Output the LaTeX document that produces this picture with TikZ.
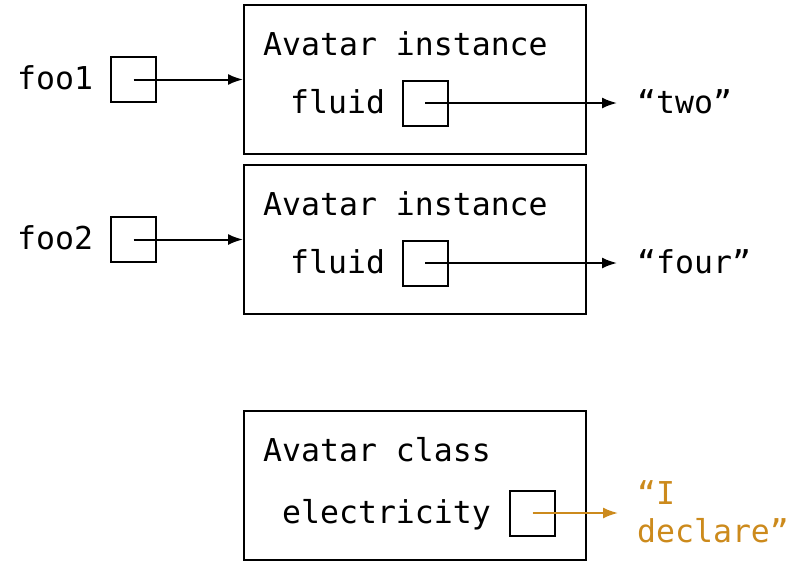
\documentclass[tikz,border=0pt]{standalone}
\usepackage{fontspec}
\setmonofont{DejaVu Sans Mono}
\usetikzlibrary{arrows.meta}
\definecolor{ochre}{HTML}{CC8A1C}
\begin{document}
\begin{tikzpicture}[x=1pt,y=-1pt,
  font=\fontsize{31.5}{38}\selectfont\ttfamily,
  bigbox/.style={draw, line width=2pt, minimum width=342pt, minimum height=149pt, inner sep=0pt},
  cell/.style={draw, line width=2pt, minimum size=45pt, inner sep=0pt},
  lbl/.style={anchor=base west, inner sep=0pt},
  arr/.style={line width=2pt, -{Latex[length=15pt,width=11pt]}}]
\useasboundingbox (0,0) rectangle (798,560);
% boxes
\node[bigbox] (b1) at (415,79.5) {};
\node[bigbox] (b2) at (415,239.5) {};
\node[bigbox] (b3) at (415,485.5) {};
% titles
\node[lbl] (t1) at (263,55) {Avatar instance};
\node[lbl] (t2) at (263,215) {Avatar instance};
\node[lbl] (t3) at (263,461) {Avatar class};
% fields
\node[lbl] (fl1) at (290,113) {fluid};
\node[lbl] (fl2) at (290,273) {fluid};
\node[lbl] (el) at (282,523) {electricity};
\node[cell] (c1) at (425,103) {};
\node[cell] (c2) at (425,263) {};
\node[cell] (c3) at (532.5,513) {};
% variables
\node[lbl] (foo1) at (17,89) {foo1};
\node[lbl] (foo2) at (17,249) {foo2};
\node[cell] (v1) at (133.5,79.5) {};
\node[cell] (v2) at (133.5,239.5) {};
% values
\node[lbl] (two) at (637,113) {“two”};
\node[lbl] (four) at (637,273) {“four”};
\node[lbl, text=ochre] (decl1) at (637,504) {“I};
\node[lbl, text=ochre] (decl2) at (637,542) {declare”};
\coordinate (e1) at (617,103);
\coordinate (e2) at (617,263);
\coordinate (e3) at (618,513);
% arrows
\draw[arr] (v1.center) -- (v1.center -| b1.west);
\draw[arr] (v2.center) -- (v2.center -| b2.west);
\draw[arr] (c1.center) -- (e1);
\draw[arr] (c2.center) -- (e2);
\draw[arr, draw=ochre, fill=ochre] (c3.center) -- (e3);
\end{tikzpicture}
\end{document}
